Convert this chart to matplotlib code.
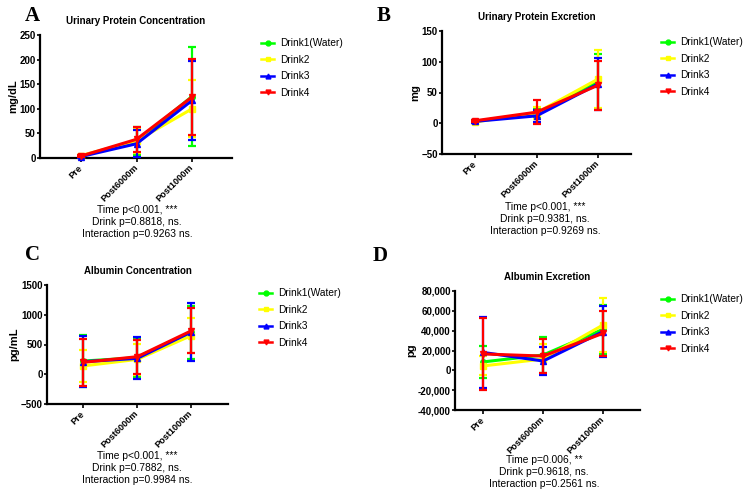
import matplotlib
matplotlib.use("Agg")
import matplotlib.pyplot as plt
from matplotlib.ticker import FuncFormatter
from matplotlib.lines import Line2D
import numpy as np

plt.rcParams['font.family'] = ['Liberation Sans', 'DejaVu Sans']

categories = ["Pre", "Post6000m", "Post1000m"]
series_names = ["Drink1(Water)", "Drink2", "Drink3", "Drink4"]
colors = ["#00ff00", "#ffff00", "#0000ff", "#ff0000"]
markers = ["o", "s", "^", "v"]

# Panel A: Urinary Protein Concentration (mg/dL)
a_mean = [[4, 34, 125], [5, 35, 100], [3, 29, 117], [4, 38, 124]]
a_sd = [[2, 28, 101], [2, 25, 58], [2, 27, 81], [2, 26, 77]]
# Panel B: Urinary Protein Excretion (mg)
b_mean = [[3, 16, 68], [2, 17, 72], [3, 12, 64], [4, 18, 62]]
b_sd = [[2, 8, 45], [2, 10, 47], [2, 10, 42], [2, 19, 40]]
# Panel C: Albumin Concentration (pg/mL)
c_mean = [[222, 278, 705], [140, 250, 650], [211, 267, 711], [200, 295, 730]]
c_sd = [[433, 322, 450], [270, 260, 300], [430, 355, 480], [390, 287, 380]]
# Panel D: Albumin Excretion (pg)
d_mean = [[8500, 15500, 41300], [4500, 11400, 45700], [18000, 9400, 39000], [16500, 14400, 37300]]
d_sd = [[16000, 18500, 24500], [9500, 15000, 27000], [35500, 13800, 26000], [36000, 17000, 22700]]

titles = ["Urinary Protein Concentration", "Urinary Protein Excretion",
          "Albumin Concentration", "Albumin Excretion"]
ylabels = ["mg/dL", "mg", "pg/mL", "pg"]
letters = ["A", "B", "C", "D"]
stats = [
    "Time p<0.001, ***\nDrink p=0.8818, ns.\nInteraction p=0.9263 ns.",
    "Time p<0.001, ***\nDrink p=0.9381, ns.\nInteraction p=0.9269 ns.",
    "Time p<0.001, ***\nDrink p=0.7882, ns.\nInteraction p=0.9984 ns.",
    "Time p=0.006, **\nDrink p=0.9618, ns.\nInteraction p=0.2561 ns.",
]

W, H = 746, 496
fig = plt.figure(figsize=(W / 100, H / 100), dpi=100)

# pixel boxes: left, right, top, bottom
boxes = [(40, 232, 35, 158), (442, 631, 31, 154), (47, 228, 285, 404), (455, 640, 291, 410)]
xlims = [(-0.74, 2.72), (-0.53, 2.53), (-0.67, 2.68), (-0.475, 2.62)]
ylims = [(0, 250), (-50, 150), (-500, 1500), (-40000, 80000)]
ysteps = [50, 50, 500, 20000]
letter_pos = [(25, 16), (377, 16), (25, 255), (373, 256)]
legend_pos = [(256, 33), (656, 32), (254, 283), (656, 289)]
stat_pos = [(137, 205), (545, 202), (137, 451), (544, 455)]
means = [a_mean, b_mean, c_mean, d_mean]
sds = [a_sd, b_sd, c_sd, d_sd]

x = np.arange(len(categories))

for i in range(4):
    l, r, t, b = boxes[i]
    ax = fig.add_axes([l / W, 1 - b / H, (r - l) / W, (b - t) / H])
    for s in range(4):
        ax.errorbar(x, means[i][s], yerr=sds[i][s], color=colors[s], marker=markers[s],
                    markersize=4, linewidth=2.2, elinewidth=1.6, capsize=3, capthick=1.6,
                    clip_on=False, zorder=3 + s)
    ax.set_xlim(*xlims[i])
    ax.set_ylim(*ylims[i])
    lo, hi = ylims[i]
    ax.set_yticks(np.arange(lo, hi + 1, ysteps[i]))
    if i == 3:
        ax.yaxis.set_major_formatter(FuncFormatter(lambda v, p: f"{int(v):,}"))
    ax.set_xticks(x)
    ax.set_xticklabels(categories, rotation=45, ha="right", va="center",
                       rotation_mode="anchor", fontsize=6.6, fontweight="bold")
    for lab in ax.get_yticklabels():
        lab.set_fontsize(7)
        lab.set_fontweight("bold")
    ax.spines["top"].set_visible(False)
    ax.spines["right"].set_visible(False)
    ax.spines["left"].set_linewidth(1.6)
    ax.spines["bottom"].set_linewidth(1.6)
    ax.tick_params(axis="y", width=1.2, length=2.2, pad=0.8)
    ax.tick_params(axis="x", width=1.2, length=3, pad=3)
    ax.set_ylabel(ylabels[i], fontsize=8, fontweight="bold", labelpad=1)
    ax.set_title(titles[i], fontsize=7, fontweight="bold", pad=8)
    handles = [Line2D([], [], color=colors[s], marker=markers[s], markersize=3.5,
                      linewidth=1.8) for s in range(4)]
    lx, ly = legend_pos[i]
    ax.legend(handles, series_names, loc="upper left", bbox_to_anchor=(lx / W, 1 - ly / H),
              bbox_transform=fig.transFigure, frameon=False, fontsize=7.3,
              handlelength=1.3, labelspacing=0.65, borderpad=0, handletextpad=0.55)
    fx, fy = letter_pos[i]
    fig.text(fx / W, 1 - fy / H, letters[i], fontsize=15, fontweight="bold",
             family="Liberation Serif", ha="left", va="center")
    sx, sy = stat_pos[i]
    fig.text(sx / W, 1 - sy / H, stats[i], fontsize=7.4, ha="center", va="top",
             linespacing=1.25)

fig.savefig("out.png", dpi=100)
